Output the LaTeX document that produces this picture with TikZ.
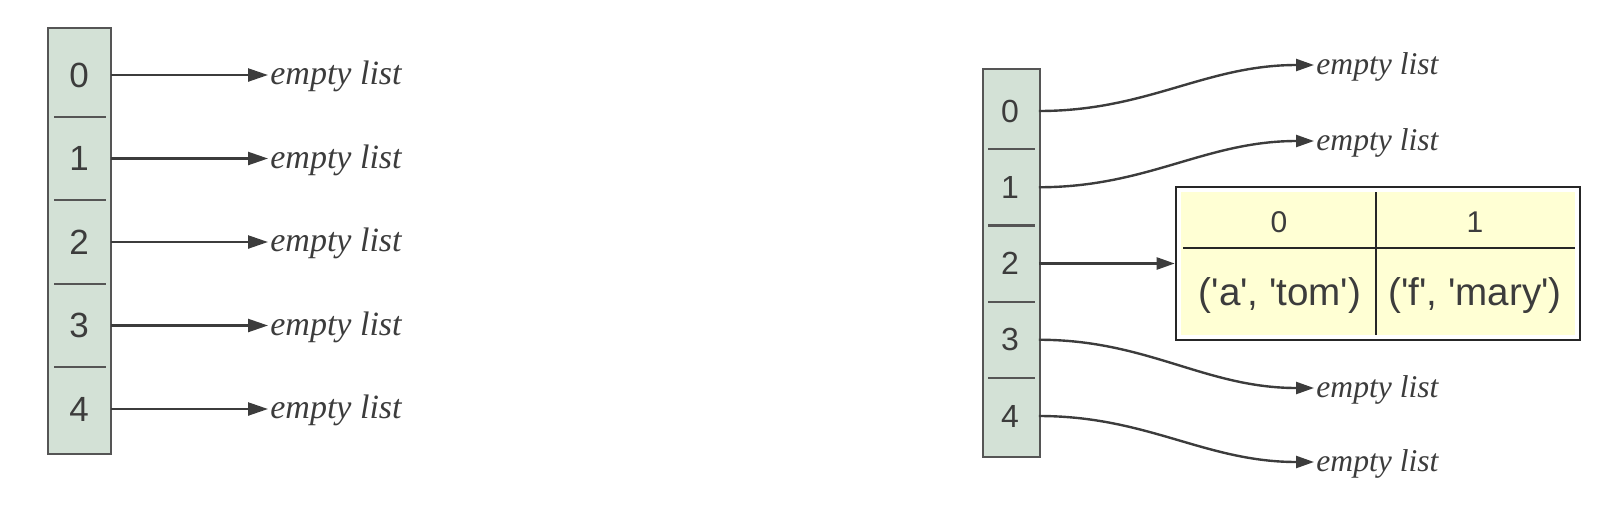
\documentclass[tikz,border=0pt]{standalone}
\usepackage{fontspec}
\setmainfont{Liberation Serif}
\setsansfont{Liberation Sans}
\newfontfamily\cellfont{Liberation Sans}
\usetikzlibrary{arrows.meta}
\definecolor{slotfill}{RGB}{211,225,214}
\definecolor{slotline}{RGB}{85,85,85}
\definecolor{rowfill}{RGB}{255,255,212}
\definecolor{inkgray}{RGB}{60,60,60}
\tikzset{
  slotbox/.style={draw=slotline, fill=slotfill, line width=1.1pt},
  slotbar/.style={draw=slotline, line width=1.1pt},
  bigslot/.style={font=\sffamily\fontsize{17.5}{19}\selectfont, text=inkgray,
    minimum width=31.5pt, inner sep=0pt},
  smallslot/.style={font=\sffamily\fontsize{16}{18}\selectfont, text=inkgray,
    minimum width=28.5pt, inner sep=0pt},
  bigempty/.style={font=\itshape\fontsize{17}{19}\selectfont, text=inkgray,
    anchor=west, inner sep=1pt, text height=0.95em, text depth=0pt},
  smallempty/.style={font=\itshape\fontsize{15.8}{18}\selectfont, text=inkgray,
    anchor=west, inner sep=1pt, text height=0.95em, text depth=0pt},
  bigptr/.style={-{Triangle[length=10pt,width=6.5pt]}, draw=inkgray, line width=1.2pt},
  smallptr/.style={-{Triangle[length=9pt,width=6pt]}, draw=inkgray, line width=1.2pt},
  tblbox/.style={draw=black!85, fill=white, line width=1.3pt, inner sep=0pt},
  tblbar/.style={draw=black!85, line width=1.1pt},
  tblhead/.style={font=\cellfont\fontsize{15}{17}\selectfont, text=inkgray},
  tblcell/.style={font=\cellfont\fontsize{19.3}{21}\selectfont, text=inkgray}
}
\begin{document}
\begin{tikzpicture}[x=0.5pt,y=-0.5pt]
  \useasboundingbox (0,0) rectangle (1614,526);
  % table before the first insertion
  \draw[slotbox] (48,28) rectangle (111,454);
  \draw[slotbar] (54,116.75) -- (106,116.75);
  \draw[slotbar] (54,200.25) -- (106,200.25);
  \draw[slotbar] (54,283.75) -- (106,283.75);
  \draw[slotbar] (54,367.25) -- (106,367.25);
  \node[bigslot] (a0) at (79,75) {0};
  \node[bigslot] (a1) at (79,158.5) {1};
  \node[bigslot] (a2) at (79,242) {2};
  \node[bigslot] (a3) at (79,325.5) {3};
  \node[bigslot] (a4) at (79,409) {4};
  \node[bigempty] (e0) at (268,75) {empty list};
  \node[bigempty] (e1) at (268,158.5) {empty list};
  \node[bigempty] (e2) at (268,242) {empty list};
  \node[bigempty] (e3) at (268,325.5) {empty list};
  \node[bigempty] (e4) at (268,409) {empty list};
  \draw[bigptr] (a0.east) -- (e0.west);
  \draw[bigptr] (a1.east) -- (e1.west);
  \draw[bigptr] (a2.east) -- (e2.west);
  \draw[bigptr] (a3.east) -- (e3.west);
  \draw[bigptr] (a4.east) -- (e4.west);

  % table after the first insertion
  \draw[slotbox] (983,69) rectangle (1040,457);
  \draw[slotbar] (988,149.1) -- (1035,149.1);
  \draw[slotbar] (988,225.4) -- (1035,225.4);
  \draw[slotbar] (988,301.6) -- (1035,301.6);
  \draw[slotbar] (988,377.9) -- (1035,377.9);
  \node[smallslot] (b0) at (1010,111) {0};
  \node[smallslot] (b1) at (1010,187.25) {1};
  \node[smallslot] (b2) at (1010,263.5) {2};
  \node[smallslot] (b3) at (1010,339.75) {3};
  \node[smallslot] (b4) at (1010,416) {4};
  \node[smallempty] (f0) at (1314,65) {empty list};
  \node[smallempty] (f1) at (1314,141) {empty list};
  \node[smallempty] (f3) at (1314,388) {empty list};
  \node[smallempty] (f4) at (1314,462) {empty list};
  \node[tblbox, minimum width=202pt, minimum height=76.5pt] (tbl) at (1378,263.5) {};
  \fill[rowfill] (1181,192) rectangle (1575,335);
  \draw[tblbar] (1376,192) -- (1376,335);
  \draw[tblbar] (1183,248) -- (1575,248);
  \node[tblhead] (h0) at (1279,222) {0};
  \node[tblhead] (h1) at (1475,222) {1};
  \node[tblcell] (v0) at (1280,296) {('a', 'tom')};
  \node[tblcell] (v1) at (1475,296) {('f', 'mary')};
  \draw[smallptr] (b0.east) to[out=0,in=180] (f0.west);
  \draw[smallptr] (b1.east) to[out=0,in=180] (f1.west);
  \draw[smallptr] (b2.east) -- (tbl.west);
  \draw[smallptr] (b3.east) to[out=0,in=180] (f3.west);
  \draw[smallptr] (b4.east) to[out=0,in=180] (f4.west);
\end{tikzpicture}
\end{document}
